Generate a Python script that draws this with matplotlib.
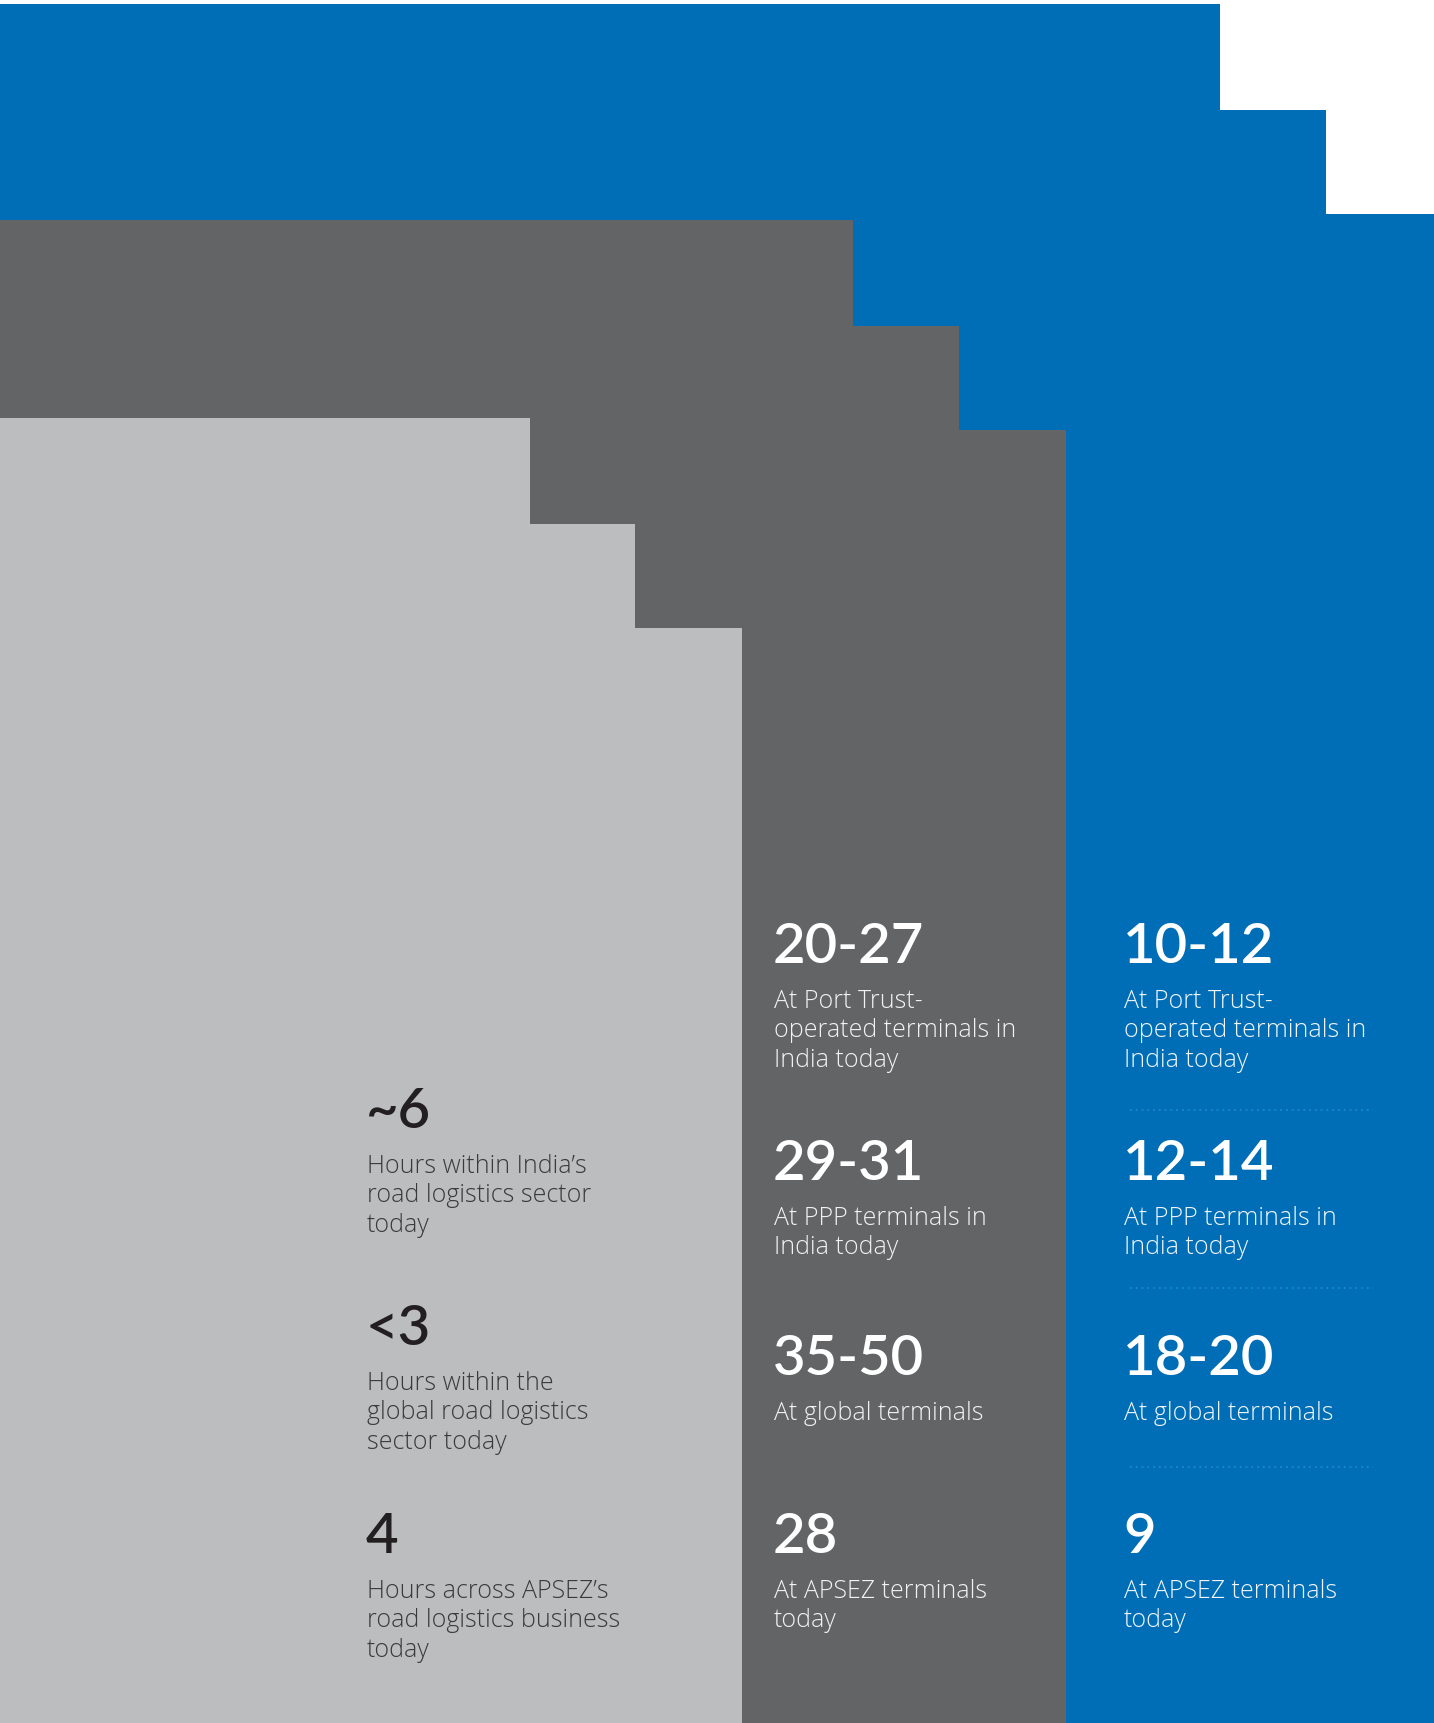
import matplotlib.pyplot as plt
from matplotlib import font_manager

# step profiles (x edges, top of each step) for the three stacked blocks
blue_edges = [0, 1220, 1326, 1434]
blue_tops = [5, 111, 215]
dark_edges = [0, 853, 959, 1066]
dark_tops = [221, 327, 431]
light_edges = [0, 530, 635, 742]
light_tops = [419, 525, 629]

light_values = ["~6", "<3", "4"]
light_notes = ["Hours within India\u2019s\nroad logistics sector\ntoday",
               "Hours within the\nglobal road logistics\nsector today",
               "Hours across APSEZ\u2019s\nroad logistics business\ntoday"]

dark_values = ["20-27", "29-31", "35-50", "28"]
blue_values = ["10-12", "12-14", "18-20", "9"]
terminal_notes = ["At Port Trust-\noperated terminals in\nIndia today",
                  "At PPP terminals in\nIndia today",
                  "At global terminals",
                  "At APSEZ terminals\ntoday"]

BLUE = "#006eb6"
DARK = "#636466"
LIGHT = "#bcbdbf"
W, H = 1434, 1724

names = {f.name for f in font_manager.fontManager.ttflist}
NUM_FONT = "Lato" if "Lato" in names else "DejaVu Sans"
NOTE_FONT = "Open Sans" if "Open Sans" in names else "DejaVu Sans"


def draw_block(ax, edges, tops, color):
    for i, top in enumerate(tops):
        ax.fill_between([edges[i], edges[i + 1]], top, H, color=color, lw=0)


def draw_column(ax, x, baselines, values, notes, num_color, note_color):
    for base, val, note in zip(baselines, values, notes):
        ax.text(x, base, val, fontsize=40.5, fontweight="semibold", color=num_color,
                family=NUM_FONT, va="baseline", ha="left")
        for j, line in enumerate(note.split("\n")):
            ax.text(x + 1, base + 45 + j * 29.5, line, fontsize=18, fontweight="light",
                    color=note_color, family=NOTE_FONT, va="baseline", ha="left")


fig = plt.figure(figsize=(W / 100, H / 100), dpi=100)
ax = fig.add_axes([0, 0, 1, 1])
ax.set_xlim(0, W)
ax.set_ylim(H, 0)
ax.axis("off")

draw_block(ax, blue_edges, blue_tops, BLUE)
draw_block(ax, dark_edges, dark_tops, DARK)
draw_block(ax, light_edges, light_tops, LIGHT)

draw_column(ax, 366, [1128, 1345, 1553], light_values, light_notes, "#231f20", "#3a3a3c")
draw_column(ax, 773, [963, 1180, 1375, 1553], dark_values, terminal_notes, "white", "#f2f2f2")
draw_column(ax, 1123, [963, 1180, 1375, 1553], blue_values, terminal_notes, "white", "#f2f6fa")

# dotted separators in the blue column
for y in [1111, 1289, 1468]:
    ax.plot([1130, 1373], [y, y], color="#2287cb", lw=1.3, ls=(0, (1, 2.2)))

fig.savefig("out.png", dpi=100)
